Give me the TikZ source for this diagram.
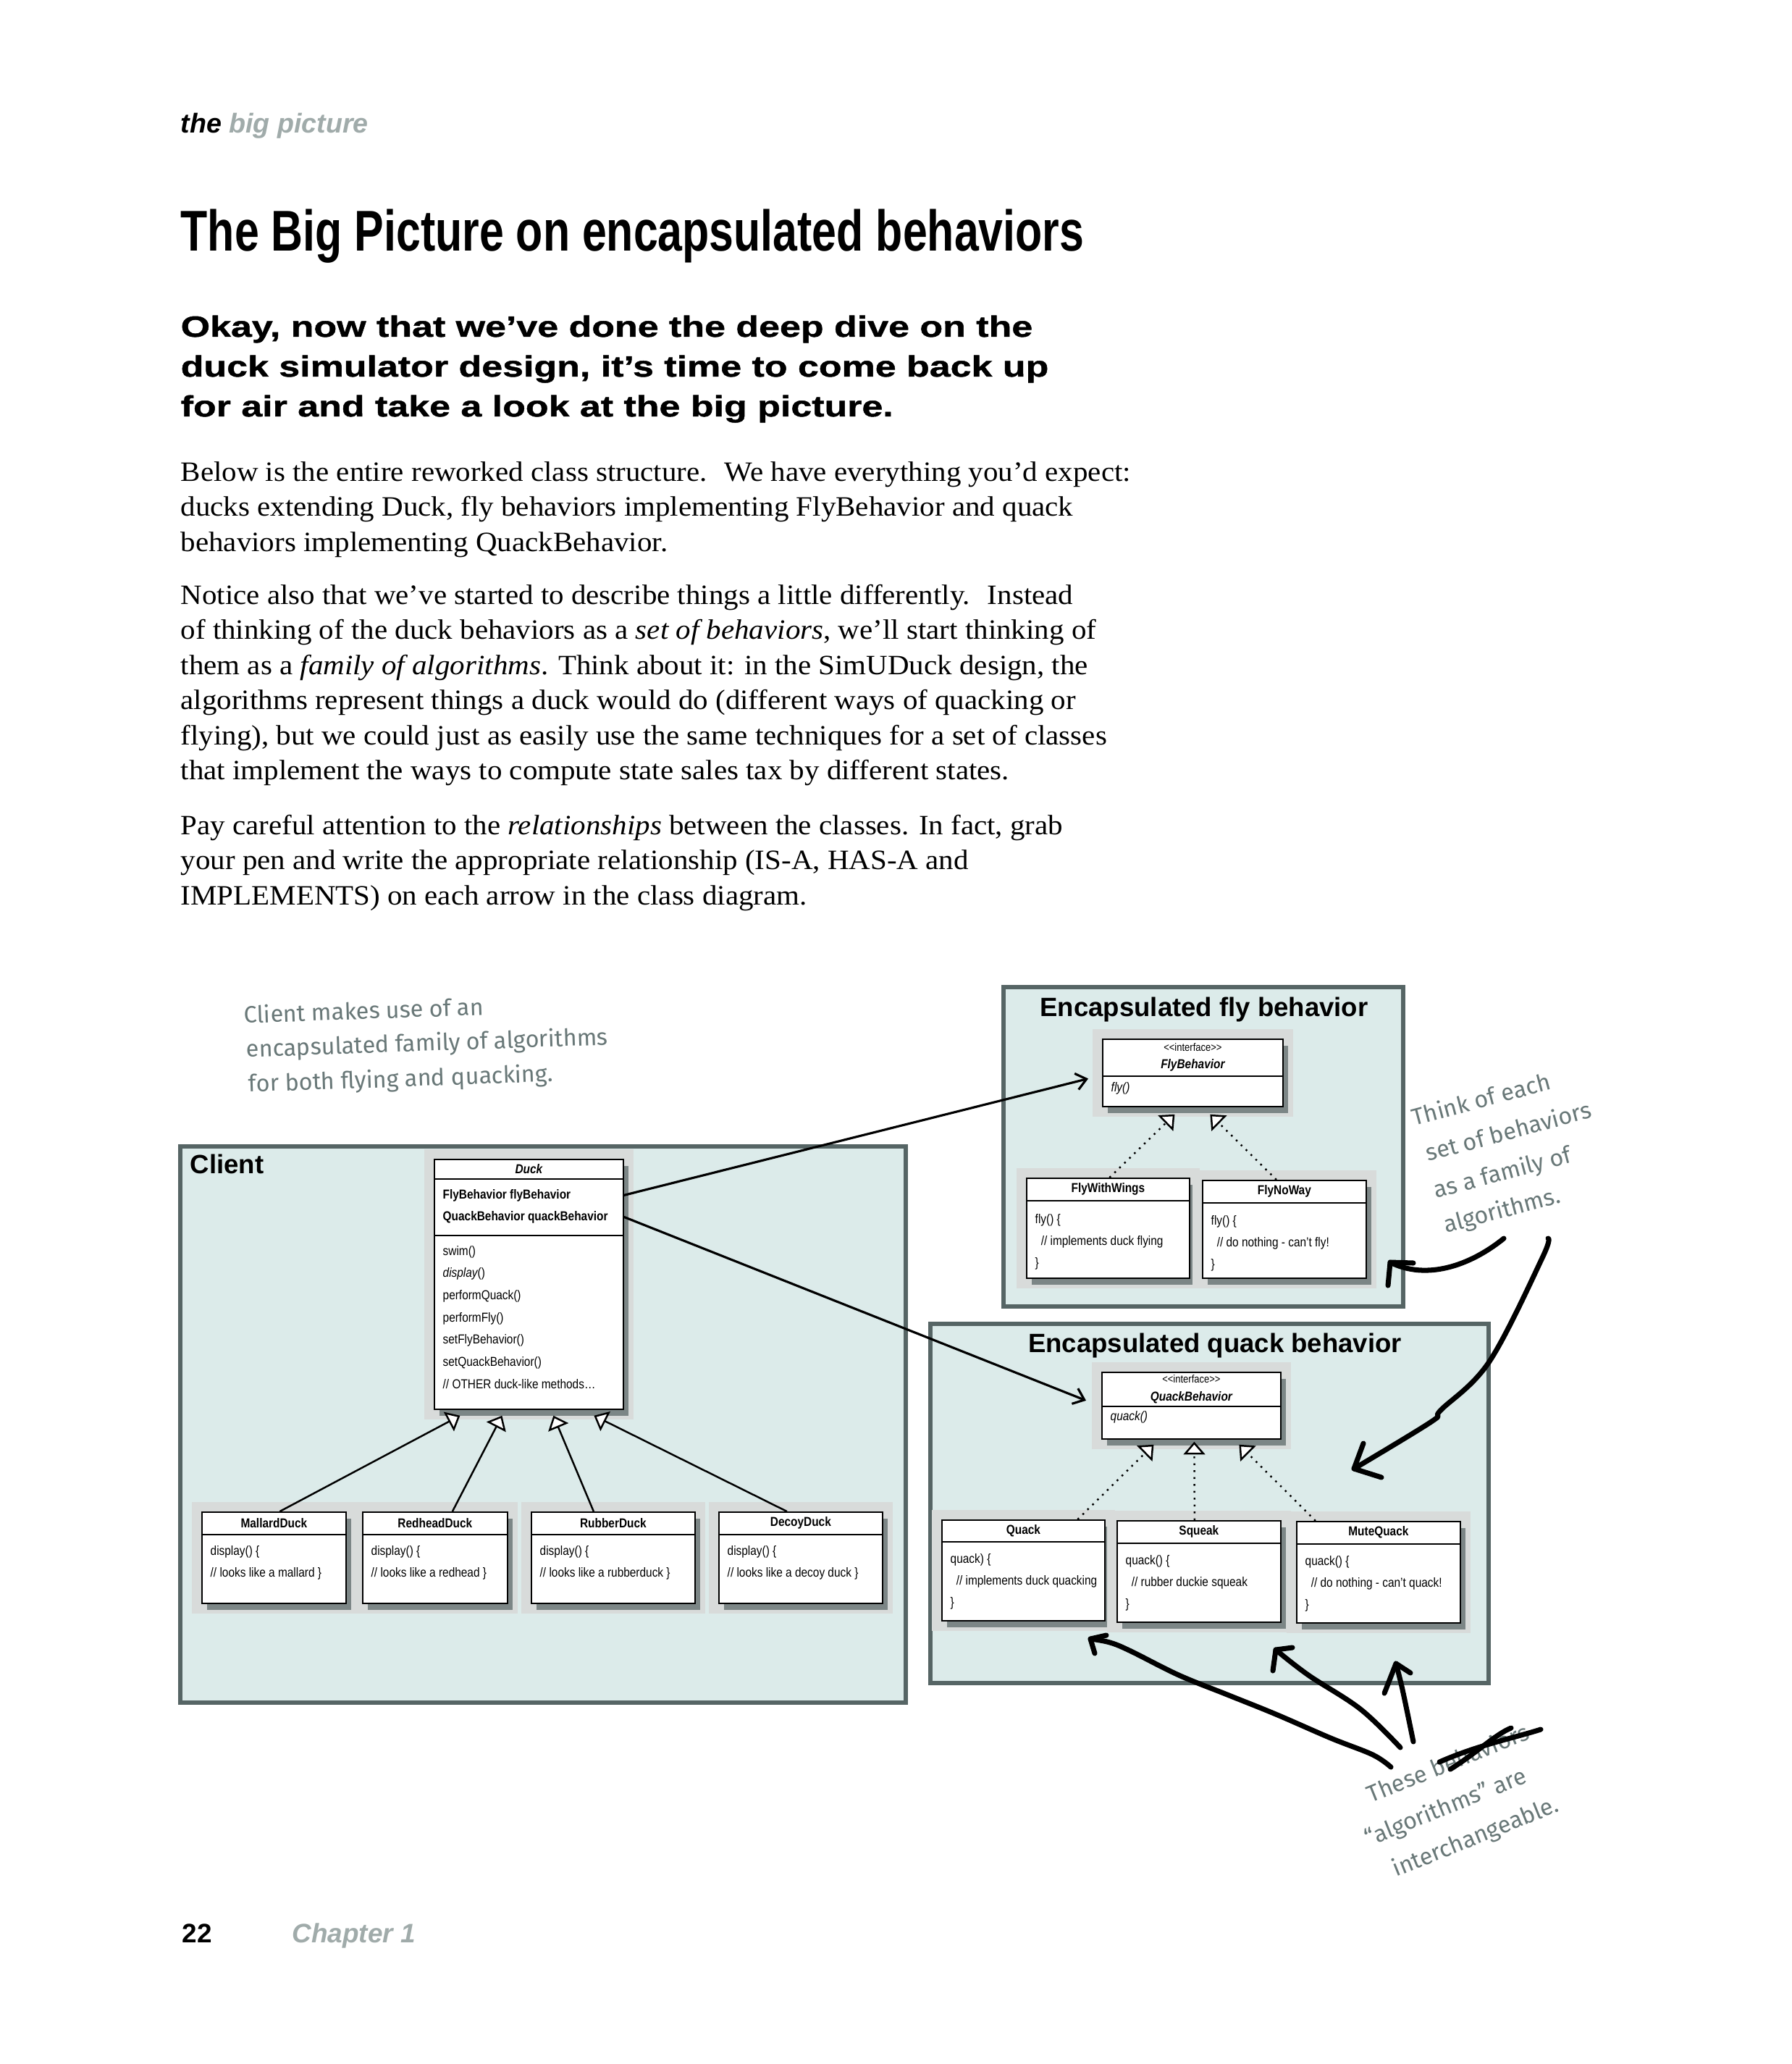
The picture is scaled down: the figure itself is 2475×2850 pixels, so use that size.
\documentclass[tikz,border=0pt]{standalone}
\usepackage{fontspec}
\setmainfont{Liberation Serif}[FakeStretch=1.06]
\setsansfont{Liberation Sans}
\newfontfamily\umlfont[FakeStretch=0.86]{Liberation Sans}
\newfontfamily\titlefont[FakeStretch=0.766]{Liberation Sans}
\newfontfamily\leadfont[FakeStretch=1.285, BoldFeatures={FakeBold=1.2}]{Liberation Sans}
\newfontfamily\handfont{Fira Sans}
\usetikzlibrary{positioning,calc,arrows.meta,shadows}

\definecolor{boxfill}{HTML}{DCEBEA}
\definecolor{boxline}{HTML}{566565}
\definecolor{pengray}{HTML}{697878}
\definecolor{headgray}{HTML}{A0ABAA}
\definecolor{halogray}{HTML}{D8DBDA}
\definecolor{shadegray}{HTML}{6C7878}

\begin{document}
\begin{tikzpicture}[x=0.1mm, y=-0.1mm,
    group/.style={draw=boxline, fill=boxfill, line width=1.5pt},
    uml/.style={draw=black, fill=white, line width=0.5pt, inner sep=0pt,
      preaction={draw=halogray, line width=8pt},
      drop shadow={shadow xshift=2pt, shadow yshift=-2.5pt, fill=shadegray, opacity=0.85}},
    umlname/.style={font=\umlfont\fontsize{5.1}{6}\selectfont\bfseries, align=center, inner sep=0pt},
    umltext/.style={font=\umlfont\fontsize{5.1}{6}\selectfont, inner sep=0pt},
    grouptitle/.style={font=\sffamily\bfseries\fontsize{10.4}{12}\selectfont, inner sep=0pt},
    body/.style={font=\fontsize{11}{13}\selectfont, inner sep=0pt, anchor=base west},
    lead/.style={font=\leadfont\bfseries\fontsize{11.5}{13}\selectfont, inner sep=0pt, anchor=base west},
    hand/.style={font=\handfont\fontsize{9.2}{11}\selectfont, text=pengray, inner sep=0pt, anchor=base west},
    isa/.style={-{Triangle[fill=white, length=5pt, width=8.5pt]}, line width=0.7pt},
    impl/.style={isa, dotted},
    has/.style={-{Straight Barb[length=4pt, width=6.5pt]}, line width=0.9pt},
    pen/.style={line width=2pt, line cap=round, line join=round}]

  % page
  \fill[white] (0,0) rectangle (2475,2850);

  \newcommand{\umlclass}[9]{%
    \node[uml, anchor=north west, minimum width=#4*0.1mm, minimum height=#5*0.1mm] (#1) at (#2,#3) {};
    \draw[line width=0.5pt] ($(#1.north west)+(0,#6)$) -- ($(#1.north east)+(0,#6)$);
    \node[umlname] (#1-name) at ($(#1.north)+(0,#6/2)$) {#7};
    \foreach \txt [count=\i from 0] in {#9}
      \node[umltext, anchor=base west] (#1-\i) at ($(#1.north west)+(12,#8+30*\i)$) {\txt};
  }

  % running head, title, text
  \node[font=\sffamily\bfseries\itshape\fontsize{10.7}{12}\selectfont, anchor=base west, inner sep=0pt]
    (runhead) at (249,184) {the {\color{headgray}big picture}};
  \node[font=\titlefont\bfseries\fontsize{22.6}{26}\selectfont, anchor=base west, inner sep=0pt]
    (title) at (249,347) {The Big Picture on encapsulated behaviors};

  \foreach \txt [count=\i from 0] in {{Okay, now that we’ve done the deep dive on the},
      {duck simulator design, it’s time to come back up},
      for air and take a look at the big picture.}
    \node[lead] (lead-\i) at (249,465+55*\i) {\txt};

  \foreach \txt [count=\i from 0] in {Below is the entire reworked class structure.~ We have everything you’d expect:,
      {ducks extending Duck, fly behaviors implementing FlyBehavior and quack},
      behaviors implementing QuackBehavior.}
    \node[body] (parA-\i) at (249,664+48.5*\i) {\txt};
  \foreach \txt [count=\i from 0] in {Notice also that we’ve started to describe things a little differently.~ Instead,
      {of thinking of the duck behaviors as a \emph{set of behaviors}, we’ll start thinking of},
      {them as a \emph{family of algorithms}. Think about it: in the SimUDuck design, the},
      algorithms represent things a duck would do (different ways of quacking or,
      {flying), but we could just as easily use the same techniques for a set of classes},
      that implement the ways to compute state sales tax by different states.}
    \node[body] (parB-\i) at (249,834+48.5*\i) {\txt};
  \foreach \txt [count=\i from 0] in {{Pay careful attention to the \emph{relationships} between the classes. In fact, grab},
      {your pen and write the appropriate relationship (IS-A, HAS-A and},
      IMPLEMENTS) on each arrow in the class diagram.}
    \node[body] (parC-\i) at (249,1152+48.5*\i) {\txt};

  % groups
  \draw[group] (249,1583) rectangle (1251,2351);
  \draw[group] (1386,1363) rectangle (1938,1804);
  \draw[group] (1285,1828) rectangle (2056,2324);
  \node[grouptitle, anchor=base west] (clientlbl) at (262,1620) {Client};
  \node[grouptitle, anchor=base] (flylbl) at (1663,1403) {Encapsulated fly behavior};
  \node[grouptitle, anchor=base] (quacklbl) at (1678,1867) {Encapsulated quack behavior};

  % classes
  \umlclass{duck}{599}{1600}{261}{345}{28}{\itshape Duck}{55}{{\bfseries FlyBehavior flyBehavior},{\bfseries QuackBehavior quackBehavior}}
  \draw[line width=0.5pt] ($(duck.north west)+(0,106)$) -- ($(duck.north east)+(0,106)$);
  \foreach \txt [count=\i from 0] in {swim(), {\itshape display}(), performQuack(), performFly(),
      setFlyBehavior(), setQuackBehavior(), {// OTHER duck-like methods\dots}}
    \node[umltext, anchor=base west] (duck-m\i) at ($(duck.north west)+(12,133+30.7*\i)$) {\txt};

  \umlclass{mallard}{278}{2087}{199}{126}{32}{MallardDuck}{60}{display() \{, // looks like a mallard \}}
  \umlclass{redhead}{500}{2087}{200}{126}{32}{RedheadDuck}{60}{display() \{, // looks like a redhead \}}
  \umlclass{rubber}{733}{2087}{226}{126}{32}{RubberDuck}{60}{display() \{, // looks like a rubberduck \}}
  \umlclass{decoy}{992}{2087}{226}{126}{32}{DecoyDuck}{60}{display() \{, // looks like a decoy duck \}}

  \umlclass{flyif}{1522}{1434}{249}{93}{52}{{\fontsize{4.3}{5}\selectfont\mdseries {<}{<}interface{>}{>}}\\[1pt]\itshape FlyBehavior}{73}{{\itshape fly()}}
  \umlclass{wings}{1417}{1626}{225}{138}{32}{FlyWithWings}{63}{fly() \{, \hspace*{2.3pt}// implements duck flying, \}}
  \umlclass{noway}{1660}{1629}{226}{135}{32}{FlyNoWay}{62}{fly() \{, \hspace*{2.3pt}// do nothing - can’t fly!, \}}

  \umlclass{qif}{1521}{1894}{247}{92}{48}{{\fontsize{4.3}{5}\selectfont\mdseries {<}{<}interface{>}{>}}\\[1pt]\itshape QuackBehavior}{67}{{\itshape quack()}}
  \umlclass{quack}{1300}{2098}{225}{139}{31}{Quack}{60}{quack) \{, \hspace*{2.3pt}// implements duck quacking, \}}
  \umlclass{squeak}{1542}{2099}{226}{140}{32}{Squeak}{61}{quack() \{, \hspace*{2.3pt}// rubber duckie squeak, \}}
  \umlclass{mute}{1790}{2100}{226}{140}{32}{MuteQuack}{61}{quack() \{, \hspace*{2.3pt}// do nothing - can’t quack!, \}}

  % relations
  \draw[isa] ($(mallard.north)+(8,0)$) -- ($(duck.south)+(-95,8)$);
  \draw[isa] ($(redhead.north)+(24,0)$) -- ($(duck.south)+(-37,8)$);
  \draw[isa] ($(rubber.north)+(-27,0)$) -- ($(duck.south)+(34,8)$);
  \draw[isa] ($(decoy.north)+(-19,0)$) -- ($(duck.south)+(90,8)$);
  \draw[impl] ($(wings.north)+(2,0)$) -- ($(flyif.south)+(-25,10)$);
  \draw[impl] ($(noway.north)+(-11,0)$) -- ($(flyif.south)+(24,10)$);
  \draw[impl] ($(quack.north)+(75,0)$) -- ($(qif.south)+(-52,7)$);
  \draw[impl] ($(squeak.north)+(-6,0)$) -- ($(qif.south)+(4,3)$);
  \draw[impl] ($(mute.north)+(-87,0)$) -- ($(qif.south)+(66,7)$);
  \draw[has] (duck-0 -| duck.east) -- ($(flyif.west)+(-19,8)$);
  \draw[has] (duck-1 -| duck.east) -- ($(qif.west)+(-21,-7)$);

  % notes
  \foreach \txt/\yy [count=\i] in {Client makes use of an/1413, encapsulated family of algorithms/1460,
      for both flying and quacking./1508}
    \node[hand, rotate=2] (clientnote-\i) at (334+3*\i,\yy) {\txt};
  \foreach \txt/\xx/\yy [count=\i] in {Think of each/1953/1555, set of behaviors/1972/1604,
      as a family of/1983/1655, algorithms./1997/1703}
    \node[hand, rotate=15] (thinknote-\i) at (\xx,\yy) {\txt};
  \foreach \txt/\xx/\yy [count=\i] in {These behaviors/1893/2490, “algorithms” are/1890/2550,
      interchangeable./1928/2592}
    \node[hand, rotate=22] (thesenote-\i) at (\xx,\yy) {\txt};

  % pen strokes
  \coordinate (tipFly) at (1920,1743);
  \coordinate (tipQuackGroup) at (1870,2028);
  \coordinate (tipQuack) at (1506,2263);
  \coordinate (tipSqueak) at (1762,2278);
  \coordinate (tipMute) at (1928,2297);
  \draw[pen] (2077,1710) .. controls (2030,1748) and (1970,1768) .. (tipFly);
  \draw[pen] (1952,1744) -- (tipFly) -- (1917,1775);
  \draw[pen] plot[smooth, tension=0.6] coordinates {(2138,1710) (2130,1737) (2057,1880) (1990,1947) (1977,1963) (tipQuackGroup)};
  \draw[pen] (1883,1993) -- (tipQuackGroup) -- (1908,2040);
  \draw[pen] plot[smooth, tension=0.6] coordinates {(1921,2440) (1896,2423) (1838,2400) (1762,2367) (1695,2340) (1628,2313) (1562,2280) (1533,2268) (tipQuack)};
  \draw[pen] (1528,2258) -- (tipQuack) -- (1512,2283);
  \draw[pen] plot[smooth, tension=0.6] coordinates {(1934,2413) (1879,2360) (1807,2313) (tipSqueak)};
  \draw[pen] (1785,2275) -- (tipSqueak) -- (1758,2307);
  \draw[pen] plot[smooth, tension=0.6] coordinates {(1952,2405) (1937,2333) (tipMute)};
  \draw[pen] (1948,2310) -- (tipMute) -- (1912,2338);
  \draw[pen] (1988,2433) .. controls (2040,2410) and (2090,2400) .. (2128,2388);
  \draw[pen] (2003,2443) .. controls (2040,2420) and (2065,2395) .. (2087,2386);

  % footer
  \node[font=\sffamily\bfseries\fontsize{10.5}{12}\selectfont, anchor=base west, inner sep=0pt] (pageno) at (251,2682) {22};
  \node[font=\sffamily\bfseries\itshape\fontsize{10.5}{12}\selectfont, text=headgray, anchor=base west, inner sep=0pt] (chapter) at (403,2682) {Chapter 1};
\end{tikzpicture}
\end{document}
